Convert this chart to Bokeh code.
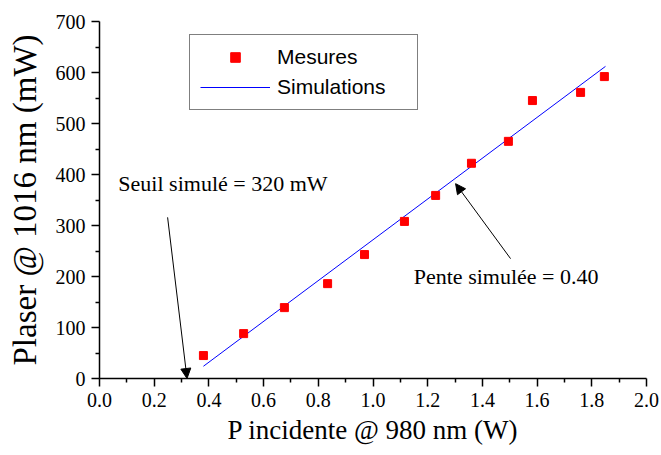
from bokeh.plotting import figure
from bokeh.models import (Range1d, FixedTicker, Legend, LegendItem, Arrow, NormalHead, Label)
from bokeh.embed import file_html
from bokeh.resources import INLINE

# ---- data ----
x_meas = [0.380, 0.527, 0.676, 0.834, 0.969, 1.115, 1.229, 1.360, 1.495, 1.583, 1.759, 1.846]
y_meas = [45, 88, 139, 186, 243, 308, 359, 422, 465, 545, 561, 592]
sim_x = [0.38, 1.85]
sim_y = [24, 612]
x_ticks = [0.0, 0.2, 0.4, 0.6, 0.8, 1.0, 1.2, 1.4, 1.6, 1.8, 2.0]
x_tick_labels = ["0.0", "0.2", "0.4", "0.6", "0.8", "1.0", "1.2", "1.4", "1.6", "1.8", "2.0"]
x_minor = [0.1, 0.3, 0.5, 0.7, 0.9, 1.1, 1.3, 1.5, 1.7, 1.9]
y_ticks = [0, 100, 200, 300, 400, 500, 600, 700]
y_tick_labels = ["0", "100", "200", "300", "400", "500", "600", "700"]
y_minor = [50, 150, 250, 350, 450, 550, 650]
series_names = ["Mesures", "Simulations"]
threshold_text = "Seuil simulé = 320 mW"
slope_text = "Pente simulée = 0.40"
x_title = "P incidente @ 980 nm (W)"
y_title = "Plaser @ 1016 nm (mW)"

SERIF = "Liberation Serif"
SANS = "Liberation Sans"

p = figure(width=661, height=455, output_backend="svg", toolbar_location=None,
           x_range=Range1d(0, 2), y_range=Range1d(0, 700))
p.min_border_left = 99
p.min_border_right = 15
p.min_border_top = 21
p.min_border_bottom = 77
p.outline_line_color = None
p.xgrid.visible = False
p.ygrid.visible = False
p.background_fill_color = "white"
p.border_fill_color = "white"

for ax, ticks, minor, labels in ((p.xaxis[0], x_ticks, x_minor, x_tick_labels),
                                 (p.yaxis[0], y_ticks, y_minor, y_tick_labels)):
    ax.ticker = FixedTicker(ticks=ticks, minor_ticks=minor)
    ax.major_label_overrides = {t: l for t, l in zip(ticks, labels)}
    ax.axis_line_width = 1.5
    ax.axis_line_color = "black"
    ax.major_tick_line_color = "black"
    ax.minor_tick_line_color = "black"
    ax.major_tick_line_width = 1.5
    ax.minor_tick_line_width = 1.5
    ax.major_tick_out = 8
    ax.major_tick_in = 0
    ax.minor_tick_out = 4
    ax.minor_tick_in = 0
    ax.major_label_text_font = SERIF
    ax.major_label_text_font_size = "20px"
    ax.major_label_text_color = "black"
    ax.axis_label_text_font = SERIF
    ax.axis_label_text_font_style = "normal"
    ax.axis_label_text_color = "black"

p.xaxis.axis_label = x_title
p.yaxis.axis_label = y_title
p.xaxis.axis_label_text_font_size = "27px"
p.yaxis.axis_label_text_font_size = "33px"
p.xaxis.major_label_standoff = 6
p.yaxis.major_label_standoff = 6
p.xaxis.axis_label_standoff = 5
p.yaxis.axis_label_standoff = 10

sim = p.line(sim_x, sim_y, line_color="#0000ff", line_width=1)
meas = p.scatter(x_meas, y_meas, marker="square", size=8, fill_color="#ff0000",
                 line_color="#ff0000")

legend = Legend(items=[LegendItem(label=series_names[0], renderers=[meas]),
                       LegendItem(label=series_names[1], renderers=[sim])],
                location=(90, 268), padding=10, spacing=6, glyph_height=24,
                glyph_width=70, label_standoff=7, label_width=130, label_height=24,
                margin=0, border_line_color="black", border_line_width=1,
                background_fill_color="white", background_fill_alpha=1,
                label_text_font=SANS, label_text_font_size="21px",
                label_text_color="black")
p.add_layout(legend, "center")

p.add_layout(Arrow(end=NormalHead(size=10, fill_color="black", line_color="black"),
                   x_start=0.249, y_start=316, x_end=0.32, y_end=0,
                   line_color="black", line_width=1))
p.add_layout(Arrow(end=NormalHead(size=10, fill_color="black", line_color="black"),
                   x_start=1.503, y_start=235, x_end=1.302, y_end=382,
                   line_color="black", line_width=1))

p.add_layout(Label(x=0.069, y=357, text=threshold_text, text_font=SERIF,
                   text_font_size="22px", text_color="black"))
p.add_layout(Label(x=1.149, y=175, text=slope_text, text_font=SERIF,
                   text_font_size="22px", text_color="black"))

open("out.html", "w").write(file_html(p, INLINE))
